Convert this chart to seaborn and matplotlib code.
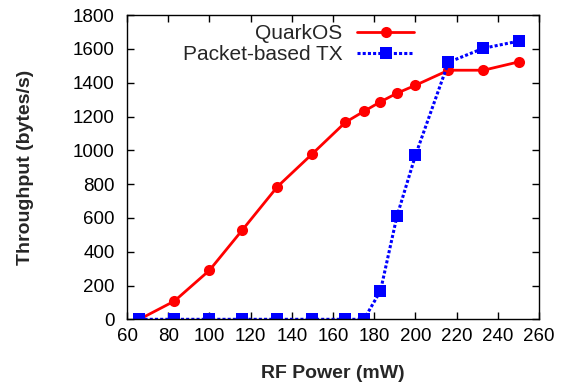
import matplotlib
matplotlib.use("Agg")
import matplotlib.pyplot as plt
import seaborn as sns
import pandas as pd

power = [66, 83, 100, 116, 133, 150, 166, 175, 183, 191, 200, 216, 233, 250]
quarkos = [0, 108, 290, 529, 785, 980, 1166, 1231, 1287, 1338, 1385, 1474, 1474, 1523]
packet_tx = [0, 0, 0, 0, 0, 0, 0, 0, 168, 610, 971, 1521, 1604, 1646]
xticks = [60, 80, 100, 120, 140, 160, 180, 200, 220, 240, 260]
yticks = [0, 200, 400, 600, 800, 1000, 1200, 1400, 1600, 1800]

sns.set_style("ticks")
plt.rcParams['font.family'] = ['Liberation Sans', 'DejaVu Sans']

fig = plt.figure(figsize=(5.65, 3.88), dpi=100)
ax = fig.add_axes([0.2248, 0.177, 0.7294, 0.784])

df_q = pd.DataFrame({"x": power, "y": quarkos})
df_p = pd.DataFrame({"x": power, "y": packet_tx})

sns.lineplot(data=df_q, x="x", y="y", ax=ax, color="#ff0000", linewidth=2,
             marker="o", markersize=8, markeredgewidth=0, label="QuarkOS")
sns.lineplot(data=df_p, x="x", y="y", ax=ax, color="#0000ff", linewidth=2.2,
             linestyle=(0, (1.0, 0.7)), marker="s", markersize=8, markeredgewidth=0,
             label="Packet-based TX")

ax.set_xlim(60, 260)
ax.set_ylim(0, 1800)
ax.set_xticks(xticks)
ax.set_yticks(yticks)
ax.tick_params(direction="in", length=5, width=1, labelsize=13.5,
               top=True, right=True, colors="black")
ax.tick_params(axis="x", pad=6)
ax.tick_params(axis="y", pad=9)
for s in ax.spines.values():
    s.set_linewidth(1)
    s.set_color("black")
ax.set_xlabel("RF Power (mW)", fontsize=14, fontweight="bold", labelpad=15)
ax.set_ylabel("Throughput (bytes/s)", fontsize=14, fontweight="bold", labelpad=28)

leg = ax.legend(loc="upper right", bbox_to_anchor=(0.697, 0.97), frameon=False,
                markerfirst=False, fontsize=15, handlelength=2.75,
                labelspacing=0.1, borderpad=0, borderaxespad=0,
                handletextpad=0.7)

fig.savefig("out.png", dpi=100)
